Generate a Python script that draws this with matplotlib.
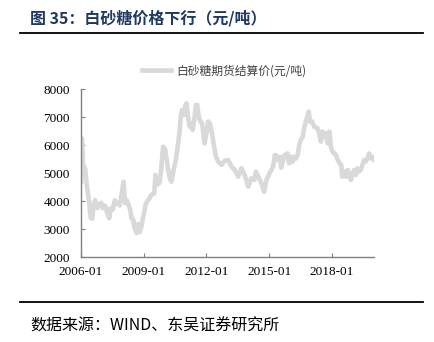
import matplotlib
matplotlib.use("Agg")
import matplotlib.pyplot as plt
import pandas as pd
from matplotlib.lines import Line2D

dates = [
    "2006-01-04", "2006-01-18", "2006-02-08", "2006-02-22", "2006-03-15", "2006-04-10",
    "2006-05-15", "2006-06-20", "2006-07-15", "2006-08-15", "2006-09-05", "2006-10-15",
    "2006-11-15", "2006-12-20", "2007-01-20", "2007-02-25", "2007-04-01", "2007-05-10",
    "2007-06-01", "2007-07-10", "2007-08-15", "2007-09-15", "2007-10-10", "2007-11-10",
    "2008-01-15", "2008-02-10", "2008-03-10", "2008-04-15", "2008-05-10", "2008-06-01",
    "2008-07-01", "2008-07-25", "2008-09-01", "2008-09-25", "2008-10-25", "2008-11-25",
    "2009-01-10", "2009-02-10", "2009-04-10", "2009-05-10", "2009-07-05", "2009-07-25",
    "2009-08-25", "2009-10-01", "2009-11-01", "2009-12-05", "2010-01-10", "2010-03-01",
    "2010-04-01", "2010-05-01", "2010-06-01", "2010-07-20", "2010-08-10", "2010-09-20",
    "2010-10-10", "2010-11-01", "2010-12-05", "2011-01-01", "2011-01-20", "2011-02-15",
    "2011-03-15", "2011-04-10", "2011-05-05", "2011-06-10", "2011-07-01", "2011-07-25",
    "2011-08-20", "2011-09-20", "2011-10-20", "2011-11-15", "2011-12-01", "2012-01-01",
    "2012-02-01", "2012-03-01", "2012-04-05", "2012-05-20", "2012-06-15", "2012-07-25",
    "2012-09-20", "2012-11-15", "2013-01-15", "2013-03-15", "2013-05-10", "2013-07-10",
    "2013-09-05", "2013-11-01", "2014-01-01", "2014-02-25", "2014-04-20", "2014-05-15",
    "2014-08-20", "2014-10-05", "2014-11-15", "2015-01-10", "2015-03-10", "2015-04-01",
    "2015-04-10", "2015-05-01", "2015-06-05", "2015-07-10", "2015-08-01", "2015-09-25",
    "2015-11-20", "2015-12-15", "2016-01-20", "2016-02-15", "2016-03-20", "2016-04-15",
    "2016-05-15", "2016-06-10", "2016-07-10", "2016-08-10", "2016-09-10", "2016-10-10",
    "2016-11-25", "2016-12-15", "2017-01-20", "2017-03-01", "2017-04-25", "2017-05-25",
    "2017-06-25", "2017-07-25", "2017-08-25", "2017-09-20", "2017-10-20", "2017-11-20",
    "2017-12-20", "2018-01-15", "2018-02-15", "2018-03-15", "2018-04-15", "2018-05-15",
    "2018-06-15", "2018-07-01", "2018-08-05", "2018-09-05", "2018-10-05", "2018-11-01",
    "2018-12-01", "2019-01-01", "2019-01-25", "2019-02-25", "2019-03-25", "2019-04-20",
    "2019-05-20", "2019-06-20", "2019-07-20", "2019-08-15", "2019-09-15", "2019-10-15",
    "2019-11-15", "2019-12-10", "2020-01-08",
]
prices = [
    4700, 6250, 5200, 5250, 5150, 4600,
    4100, 3400, 3380, 3930, 4040, 3760,
    3850, 3950, 3750, 3850, 3600, 3390,
    3750, 3700, 4040, 3900, 3950, 3850,
    4700, 3930, 4040, 3850, 3700, 3390,
    3350, 3035, 2860, 3190, 2900, 3130,
    3630, 3930, 4100, 4225, 4285, 4940,
    4600, 4650, 5100, 5950, 5850, 5180,
    4820, 4700, 5050, 5530, 5830, 6485,
    7020, 7260, 7080, 7440, 7500, 7020,
    6665, 6780, 6550, 7020, 7440, 7440,
    7020, 6850, 6780, 6300, 6070, 6430,
    6850, 6790, 6450, 5890, 5600, 5415,
    5300, 5450, 5475, 5240, 5120, 4880,
    5180, 4940, 4520, 4820, 4760, 5060,
    4640, 4340, 4760, 5000, 5240, 5475,
    5650, 5650, 5475, 5590, 5200, 5650,
    5710, 5360, 5590, 5410, 5590, 5530,
    5650, 6010, 6190, 6310, 6665, 6900,
    7200, 6850, 6850, 6665, 6610, 6430,
    6130, 6490, 6310, 6430, 6070, 6490,
    5890, 5770, 5710, 5650, 5475, 5360,
    5300, 4880, 5060, 4880, 5120, 4940,
    4760, 5000, 5120, 4940, 5180, 5060,
    5120, 5300, 5475, 5420, 5530, 5710,
    5530, 5590, 5475,
]
series_name = "白砂糖期货结算价(元/吨)"
title_text = "图 35：白砂糖价格下行（元/吨）"
source_text = "数据来源：WIND、东吴证券研究所"
y_ticks = [2000, 3000, 4000, 5000, 6000, 7000, 8000]
x_ticks = ["2006-01", "2009-01", "2012-01", "2015-01", "2018-01"]

cjk = ["Noto Sans CJK SC", "DejaVu Sans"]
serif = ["Liberation Serif", "DejaVu Serif"]

x = pd.to_datetime(dates)

fig = plt.figure(figsize=(4.34, 3.42), dpi=100)
ax = fig.add_axes([81 / 434, 1 - 257.3 / 342, (374 - 81) / 434, (257.3 - 89.3) / 342])

line, = ax.plot(x, prices, color="#d9d9d9", lw=3.3, solid_joinstyle="round", label=series_name)

ax.set_ylim(2000, 8000)
ax.set_xlim(x[0], x[-1])
ax.set_yticks(y_ticks)
ax.set_yticklabels([str(v) for v in y_ticks], fontfamily=serif, fontsize=9.5)
xt = pd.to_datetime(x_ticks)
ax.set_xticks(xt)
ax.set_xticklabels(x_ticks, fontfamily=serif, fontsize=9.5)

for s in ["top", "right"]:
    ax.spines[s].set_visible(False)
for s in ["left", "bottom"]:
    ax.spines[s].set_color("#808080")
    ax.spines[s].set_linewidth(1.0)
ax.tick_params(axis="both", direction="in", length=3, color="#808080", labelcolor="black")
ax.tick_params(axis="y", pad=8)
ax.tick_params(axis="x", pad=6)

leg = fig.legend(handles=[line], loc="center", bbox_to_anchor=(224 / 434, 1 - 71 / 342),
                 frameon=False, prop={"family": cjk, "size": 8.5},
                 handlelength=2.5, handletextpad=0.45, borderpad=0, borderaxespad=0)
for t in leg.get_texts():
    t.set_color("#404040")

fig.text(30 / 434, 1 - 18 / 342, title_text, fontfamily=cjk, fontsize=11.5, fontweight="bold",
         color="#1f3864", ha="left", va="center")
fig.add_artist(Line2D([20 / 434, 423 / 434], [1 - 33 / 342, 1 - 33 / 342], color="black", lw=1.3))
fig.add_artist(Line2D([20 / 434, 423 / 434], [1 - 302 / 342, 1 - 302 / 342], color="black", lw=1.3))
fig.text(30 / 434, 1 - 326 / 342, source_text, fontfamily=cjk, fontsize=11.5,
         color="black", ha="left", va="center")

fig.savefig("out.png", dpi=100)
